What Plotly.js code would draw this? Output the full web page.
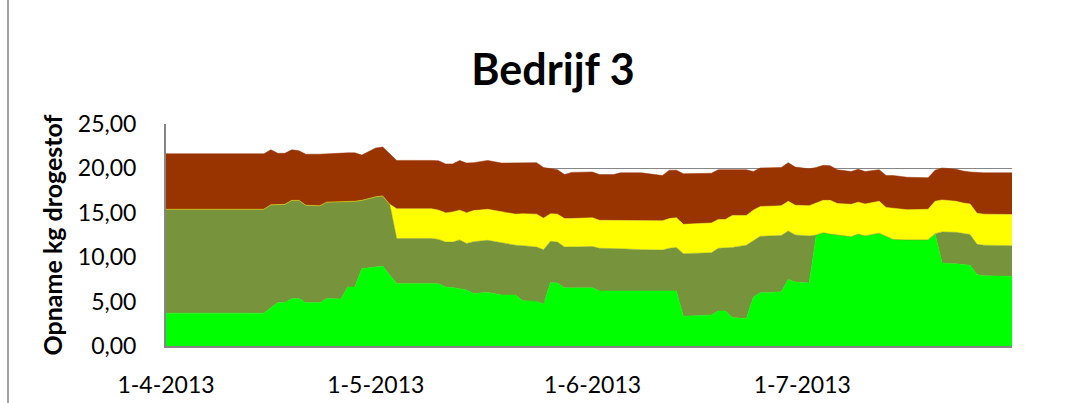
<!DOCTYPE html>
<html>
<head>
<meta charset="utf-8">
<script src="https://cdn.plot.ly/plotly-3.0.1.min.js"></script>
<style>
  html, body { margin: 0; padding: 0; background: #ffffff; }
  #chart { width: 1079px; height: 403px; }
</style>
</head>
<body>
<div id="chart"></div>
<script>
// Dates of the observations (d-m-2013)
const dates = [
  '2013-04-01','2013-04-15','2013-04-16','2013-04-17','2013-04-18','2013-04-19','2013-04-20','2013-04-21',
  '2013-04-23','2013-04-24','2013-04-26','2013-04-27','2013-04-28','2013-04-29','2013-04-30','2013-05-01',
  '2013-05-02','2013-05-03','2013-05-04','2013-05-09','2013-05-10','2013-05-11','2013-05-12','2013-05-13',
  '2013-05-14','2013-05-15','2013-05-17','2013-05-19','2013-05-21','2013-05-22','2013-05-24','2013-05-25',
  '2013-05-26','2013-05-27','2013-05-28','2013-05-29','2013-06-01','2013-06-02','2013-06-04','2013-06-05',
  '2013-06-08','2013-06-11','2013-06-12','2013-06-13','2013-06-14','2013-06-18','2013-06-19','2013-06-20',
  '2013-06-21','2013-06-23','2013-06-24','2013-06-25','2013-06-28','2013-06-29','2013-06-30','2013-07-02',
  '2013-07-03','2013-07-04','2013-07-05','2013-07-06','2013-07-08','2013-07-09','2013-07-10','2013-07-12',
  '2013-07-13','2013-07-14','2013-07-16','2013-07-19','2013-07-20','2013-07-21','2013-07-23','2013-07-24',
  '2013-07-25','2013-07-26','2013-07-27','2013-07-31'
];

// Series values (kg drogestof), bottom to top
const serieGroen = [
  3.70,3.70,4.30,4.90,4.90,5.35,5.35,4.90,
  4.90,5.35,5.30,6.65,6.65,8.70,8.80,8.90,
  9.00,8.00,7.05,7.05,7.00,6.65,6.60,6.45,
  6.30,5.90,6.05,5.75,5.75,5.10,5.05,4.70,
  7.15,7.10,6.55,6.55,6.55,6.20,6.20,6.20,
  6.15,6.20,6.20,6.20,3.35,3.50,3.95,3.95,
  3.20,3.10,5.50,6.00,6.10,7.50,7.20,7.10,
  12.50,12.75,12.60,12.50,12.30,12.60,12.40,12.70,
  12.35,12.00,11.95,11.95,12.65,9.35,9.25,9.20,
  9.10,8.05,7.90,7.85
];
const serieOlijf = [
  11.70,11.70,11.60,11.05,11.05,11.05,11.05,10.95,
  10.90,10.85,10.95,9.60,9.65,7.70,7.80,7.90,
  7.90,7.95,5.05,5.05,5.00,5.05,5.10,5.50,
  5.25,5.85,5.85,5.85,5.60,6.20,6.10,6.15,
  4.65,4.60,4.60,4.60,4.65,4.80,4.80,4.75,
  4.70,4.60,4.80,4.90,7.05,7.00,7.05,7.10,
  7.90,8.25,6.40,6.35,6.35,5.45,5.30,5.30,
  0,0,0,0,0,0,0,0,
  0,0,0,0,0,3.50,3.55,3.50,
  3.45,3.40,3.45,3.45
];
const serieGeel = [
  0,0,0,0,0,0,0,0,
  0,0,0,0,0,0,0,0,
  0,0,3.35,3.35,3.30,3.30,3.40,3.35,
  3.45,3.50,3.50,3.55,3.50,3.60,3.70,3.55,
  3.10,3.15,3.20,3.20,3.25,3.15,3.15,3.20,
  3.30,3.30,3.35,3.35,3.30,3.35,3.25,3.20,
  3.60,3.35,3.40,3.35,3.35,3.35,3.35,3.40,
  3.60,3.65,3.80,3.55,3.65,3.60,3.60,3.60,
  3.25,3.50,3.40,3.45,3.65,3.60,3.50,3.40,
  3.45,3.50,3.50,3.50
];
const serieBruin = [
  6.25,6.25,6.20,5.75,5.75,5.70,5.60,5.75,
  5.80,5.45,5.45,5.50,5.45,5.10,5.30,5.50,
  5.50,5.75,5.45,5.45,5.55,5.50,5.40,5.60,
  5.60,5.40,5.50,5.45,5.75,5.70,5.80,5.70,
  5.10,5.00,4.95,5.20,5.15,5.15,5.15,5.35,
  5.35,5.10,5.45,5.35,5.70,5.60,5.60,5.60,
  5.15,5.15,4.35,4.35,4.30,4.35,4.30,4.15,
  4.00,3.95,3.90,3.80,3.70,3.70,3.65,3.55,
  3.60,3.70,3.65,3.55,3.50,3.60,3.60,3.60,
  3.60,4.60,4.65,4.70
];

const seriesNames = ['Serie 1', 'Serie 2', 'Serie 3', 'Serie 4'];
const seriesColors = ['#00FF00', '#77933C', '#FFFF00', '#993300'];
const seriesValues = [serieGroen, serieOlijf, serieGeel, serieBruin];

const tickDates = ['2013-04-01', '2013-05-01', '2013-06-01', '2013-07-01'];
const tickLabels = ['1-4-2013', '1-5-2013', '1-6-2013', '1-7-2013'];

const traces = seriesValues.map((vals, i) => ({
  type: 'scatter',
  mode: 'lines',
  x: dates,
  y: vals,
  name: seriesNames[i],
  stackgroup: 'one',
  fillcolor: seriesColors[i],
  line: { color: seriesColors[i], width: 0.5 },
  hoverinfo: 'x+y+name'
}));

const FONT = 'Lato, "Open Sans", "DejaVu Sans", sans-serif';
const L = 166, R = 1012, T = 124, B = 346, W = 1079, H = 403;

const layout = {
  width: W,
  height: H,
  margin: { l: L, r: W - R, t: T, b: H - B, pad: 0 },
  paper_bgcolor: '#ffffff',
  plot_bgcolor: '#ffffff',
  separators: ',.',
  showlegend: false,
  font: { family: FONT, color: '#000000', size: 23 },
  title: {
    text: '<b>Bedrijf 3</b>',
    font: { family: FONT, size: 43, color: '#000000' },
    xref: 'container', yref: 'container',
    x: 553 / W, xanchor: 'center',
    y: 1 - 70 / H, yanchor: 'middle'
  },
  xaxis: {
    type: 'date',
    range: ['2013-04-01', '2013-07-31'],
    tickmode: 'array',
    tickvals: tickDates,
    ticktext: tickLabels,
    showgrid: false,
    zeroline: false,
    showline: true,
    linecolor: '#868686',
    linewidth: 2,
    ticks: '',
    ticklabelstandoff: 17,
    tickfont: { family: FONT, size: 23, color: '#000000' },
    fixedrange: true
  },
  yaxis: {
    range: [0, 25],
    tickmode: 'linear',
    tick0: 0,
    dtick: 5,
    tickformat: '.2f',
    showgrid: true,
    gridcolor: '#868686',
    gridwidth: 1,
    zeroline: false,
    showline: true,
    linecolor: '#868686',
    linewidth: 2,
    ticks: '',
    ticklabelstandoff: 23,
    tickfont: { family: FONT, size: 23, color: '#000000' },
    title: {
      text: '<b>Opname kg drogestof</b>',
      font: { family: FONT, size: 25, color: '#000000' },
      standoff: 8
    },
    automargin: false,
    fixedrange: true
  },
  shapes: [{
    type: 'line',
    xref: 'paper', yref: 'paper',
    x0: (8 - L) / (R - L), x1: (8 - L) / (R - L),
    y0: -(H - B) / (B - T) - 0.1, y1: 1 + T / (B - T) + 0.1,
    line: { color: '#868686', width: 1.5 }
  }]
};

Plotly.newPlot('chart', traces, layout, { displayModeBar: false, staticPlot: true });
</script>
</body>
</html>
